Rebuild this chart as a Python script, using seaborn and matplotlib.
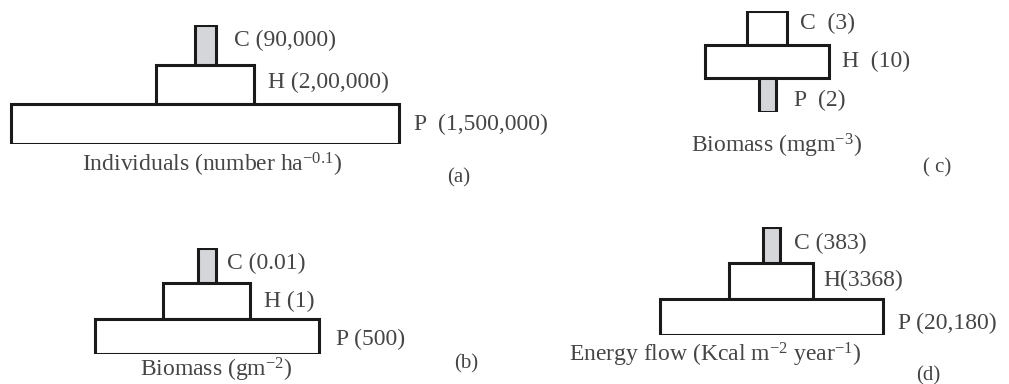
import matplotlib
matplotlib.use("Agg")
import matplotlib.pyplot as plt
import seaborn as sns

# trophic levels, top to bottom
levels = ["C", "H", "P"]

# (a) numbers of individuals
a_labels = ["C (90,000)", "H (2,00,000)", "P  (1,500,000)"]
a_widths = [21, 98, 388]
a_fill = ["#d3d6db", "white", "white"]
a_caption = r"Individuals (number ha$^{-0.1}$)"

# (b) biomass, terrestrial
b_labels = ["C (0.01)", "H (1)", "P (500)"]
b_widths = [18, 87, 224]
b_fill = ["#d3d6db", "white", "white"]
b_caption = r"Biomass (gm$^{-2}$)"

# (c) biomass, aquatic (inverted)
c_labels = ["C  (3)", "H  (10)", "P  (2)"]
c_widths = [40, 124, 17]
c_fill = ["white", "white", "#d3d6db"]
c_caption = r"Biomass (mgm$^{-3}$)"

# (d) energy flow
d_labels = ["C (383)", "H(3368)", "P (20,180)"]
d_widths = [17, 84, 223]
d_fill = ["#d3d6db", "white", "white"]
d_caption = r"Energy flow (Kcal m$^{-2}$ year$^{-1}$)"

W, H = 1009, 384
sns.set_theme(style="white")
plt.rcParams["font.family"] = ["Liberation Serif", "DejaVu Serif"]
plt.rcParams["mathtext.fontset"] = "custom"
plt.rcParams["mathtext.rm"] = "Liberation Serif"
plt.rcParams["mathtext.it"] = "Liberation Serif:italic"

txt = "#454545"
edge = "#1a1a1a"
fs = 17

fig = plt.figure(figsize=(W / 100, H / 100), dpi=100)

# layout in pixels: centre x, top y, bottom y, caption (x, y), tag (x, y), label gap, label dy
panels = [
    (a_widths, a_labels, a_fill, a_caption, "(a)", 205, 25, 144, (212, 165), (459, 178), (18, 14, 15), (-4, -2, 0)),
    (b_widths, b_labels, b_fill, b_caption, "(b)", 207, 248, 354, (216, 370), (466, 364), (11, 14, 17), (-2, 0, 3)),
    (c_widths, c_labels, c_fill, c_caption, "( c)", 767, 11, 112, (776, 146), (937, 168), (13, 13, 18), (-4, 0, 5)),
    (d_widths, d_labels, d_fill, d_caption, "(d)", 771, 227, 335, (715, 355), (928, 376), (14, 10, 16), (-2, -1, 6)),
]

half = 200
for widths, labels, fill, caption, tag, cx, top, bot, cap_xy, tag_xy, gaps, dys in panels:
    ax = fig.add_axes([(cx - half) / W, 1 - bot / H, 2 * half / W, (bot - top) / H])
    sns.barplot(x=widths, y=levels, hue=levels, palette=dict(zip(levels, fill)),
                orient="h", width=1.0, edgecolor=edge, linewidth=2.2,
                legend=False, ax=ax)
    # centre each block on the pyramid axis
    for p in ax.patches:
        p.set_x(-p.get_width() / 2)
    ax.set_xlim(-half, half)
    ax.set_ylim(2.5, -0.5)
    ax.axis("off")
    ppy = (bot - top) / 3  # pixels per level
    for i, (w, lab) in enumerate(zip(widths, labels)):
        ax.text(w / 2 + gaps[i], i + dys[i] / ppy, lab, ha="left", va="center",
                fontsize=fs, color=txt)
    fig.text(cap_xy[0] / W, 1 - cap_xy[1] / H, caption, ha="center", va="center",
             fontsize=fs, color=txt)
    fig.text(tag_xy[0] / W, 1 - tag_xy[1] / H, tag, ha="center", va="center",
             fontsize=fs - 2, color=txt)

fig.savefig("out.png", dpi=100, facecolor="white")
